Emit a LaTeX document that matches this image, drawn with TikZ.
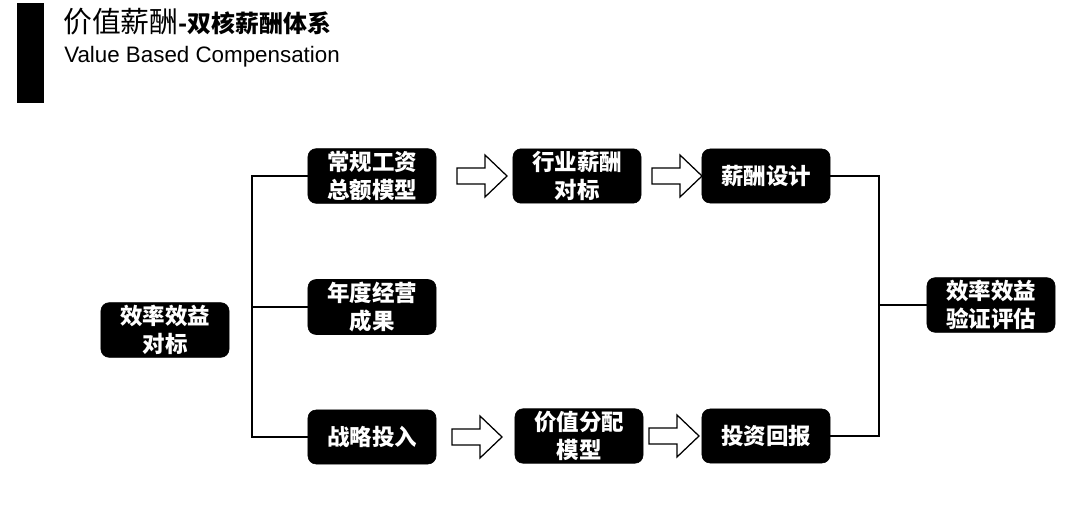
\documentclass[tikz,border=0pt]{standalone}
\usepackage{fontspec}
\setmainfont{Liberation Sans}
\newfontfamily\cjk{Noto Sans CJK SC}
\usetikzlibrary{positioning}

\tikzset{
  blackbox/.style={draw=black,fill=black,text=white,rounded corners=0.2cm,
    minimum width=3.2cm,minimum height=1.35cm,align=center,inner sep=2pt,
    font=\cjk\bfseries\fontsize{16}{19.5}\selectfont},
  link/.style={line width=1.3pt},
  hollowarrow/.pic={
    \draw[line width=0.9pt,fill=white,line join=miter]
      (0,-8) -- (28,-8) -- (28,-21) -- (50,0) -- (28,21) -- (28,8) -- (0,8) -- cycle;
  }
}

\begin{document}
\begin{tikzpicture}[x=0.025cm,y=-0.025cm]
  \useasboundingbox (0,0) rectangle (1080,518);
  % header
  \fill[black] (17,3) rectangle (44,103);
  \node[anchor=base west,inner sep=0] (title) at (63,33)
    {\fontsize{20.5}{24}\selectfont\cjk 价值薪酬\fontsize{17}{20}\selectfont\bfseries -双核薪酬体系};
  \node[anchor=base west,inner sep=0] (subtitle) at (64,63)
    {\fontsize{15.9}{18}\selectfont Value Based Compensation};

  % boxes
  \node[blackbox] (bench) at (165,330) {效率效益\\对标};
  \node[blackbox] (wage) at (372,176) {常规工资\\总额模型};
  \node[blackbox] (industry) at (577,176) {行业薪酬\\对标};
  \node[blackbox] (design) at (766,176) {薪酬设计};
  \node[blackbox] (result) at (372,307) {年度经营\\成果};
  \node[blackbox] (invest) at (372,437) {战略投入};
  \node[blackbox] (alloc) at (579,436) {价值分配\\模型};
  \node[blackbox] (return) at (766,436) {投资回报};
  \node[blackbox] (check) at (991,305) {效率效益\\验证评估};

  % hollow arrows
  \pic at (457,176) {hollowarrow};
  \pic at (652,176) {hollowarrow};
  \pic at (452,437) {hollowarrow};
  \pic at (649,436) {hollowarrow};

  % connectors
  \coordinate (lbar) at (252,0);
  \coordinate (rbar) at (879,0);
  \draw[link] (wage.west) -- (wage.west -| lbar) -- (invest.west -| lbar) -- (invest.west);
  \draw[link] (result.west) -- (result.west -| lbar);
  \draw[link] (design.east) -- (design.east -| rbar) -- (return.east -| rbar) -- (return.east);
  \draw[link] (check.west) -- (check.west -| rbar);
\end{tikzpicture}
\end{document}
